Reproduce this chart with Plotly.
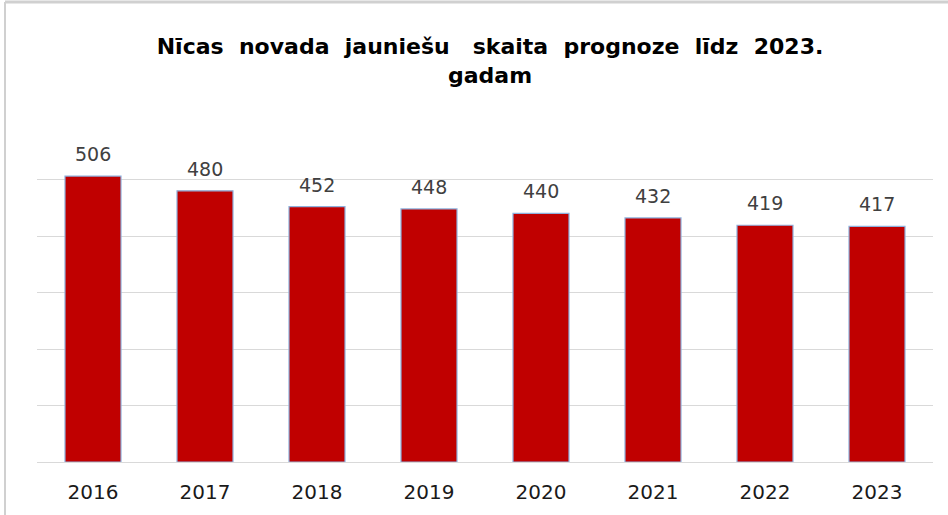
import plotly.graph_objects as go

years = ["2016", "2017", "2018", "2019", "2020", "2021", "2022", "2023"]
values = [506, 480, 452, 448, 440, 432, 419, 417]
title_text = ("Nīcas&nbsp; novada&nbsp; jauniešu&nbsp;  skaita&nbsp; prognoze&nbsp; līdz&nbsp; 2023."
              "<br>gadam")

W, H = 948, 515
ml, mr, mt, mb = 37, 15, 123, 53

fig = go.Figure()
fig.add_trace(go.Bar(
    x=years, y=values,
    marker=dict(color="#c00000", line=dict(color="#8eb0dc", width=1.2)),
    hoverinfo="skip",
))

for i, v in enumerate(values):
    fig.add_annotation(x=i, y=v, text=str(v), showarrow=False,
                       yanchor="bottom", yshift=9,
                       font=dict(family="DejaVu Sans, sans-serif", size=19, color="#404040"))

pw = W - ml - mr
ph = H - mt - mb
# outer frame lines (top and left), in paper coords
fig.add_shape(type="line", xref="paper", yref="paper",
              x0=-(ml - 5) / pw, x1=(W - ml) / pw,
              y0=(H - mb - 2) / ph, y1=(H - mb - 2) / ph,
              line=dict(color="#d0d0d0", width=3))
fig.add_shape(type="line", xref="paper", yref="paper",
              x0=-(ml - 5) / pw, x1=-(ml - 5) / pw,
              y0=(H - mb - 2) / ph, y1=-mb / ph,
              line=dict(color="#d0d0d0", width=2))

fig.update_layout(
    width=W, height=H,
    margin=dict(l=ml, r=mr, t=mt, b=mb),
    paper_bgcolor="white", plot_bgcolor="white",
    bargap=0.5,
    showlegend=False,
    title=dict(text=title_text, x=490 / W, xanchor="center",
               y=1 - 54 / H, yanchor="middle",
               font=dict(family="DejaVu Sans, sans-serif",
                         size=22, color="#000000", weight="bold")),
    xaxis=dict(type="category", range=[-0.5, len(years) - 0.5],
               showline=False, ticks="", showgrid=False,
               tickfont=dict(family="DejaVu Sans, sans-serif",
                             size=20, color="#1a1a1a"),
               ticklabelstandoff=16),
    yaxis=dict(range=[0, 600], dtick=100, showticklabels=False,
               showgrid=True, gridcolor="#d9d9d9", gridwidth=1,
               zeroline=True, zerolinecolor="#d9d9d9", zerolinewidth=1,
               showline=False, ticks=""),
)

fig.write_html("out.html", config={"displayModeBar": False},
               post_script="document.body.style.margin='0';")
